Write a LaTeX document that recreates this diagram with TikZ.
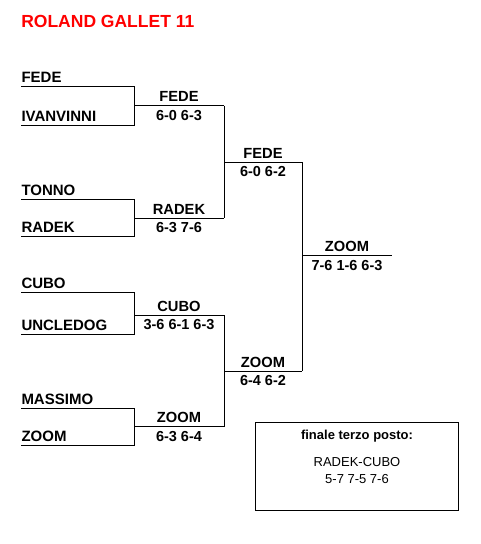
\documentclass[tikz,border=0pt]{standalone}
\usepackage{fontspec}
\setmainfont{Liberation Sans}
\begin{document}
\begin{tikzpicture}[x=1pt,y=-1pt,line width=1pt,
  player/.style={font=\bfseries\fontsize{15}{18}\selectfont,anchor=base west,inner sep=0pt},
  winner/.style={font=\bfseries\fontsize{14.7}{18}\selectfont,anchor=base,inner sep=0pt},
  score/.style={font=\bfseries\fontsize{14.5}{18}\selectfont,anchor=base,inner sep=0pt},
  title/.style={font=\bfseries\fontsize{17.5}{20}\selectfont,text=red,anchor=base west,inner sep=0pt},
  infobox/.style={draw,line width=1pt},
  infotext/.style={font=\fontsize{13}{16}\selectfont,anchor=base,inner sep=0pt}]
\useasboundingbox (0,0) rectangle (480,544);
\node[title] (title) at (20.8,27) {ROLAND GALLET 11};
% first round
\foreach \i/\t/\b/\m/\na/\nb/\w/\s in {
  1/86/125/105.7/FEDE/IVANVINNI/FEDE/6-0 6-3,
  2/199/236/218.3/TONNO/RADEK/RADEK/6-3 7-6,
  3/292/334/315/CUBO/UNCLEDOG/CUBO/3-6 6-1 6-3,
  4/408/445/426.7/MASSIMO/ZOOM/ZOOM/6-3 6-4}{
  \coordinate (t\i) at (21,\t);
  \coordinate (tc\i) at (134,\t);
  \coordinate (bc\i) at (134,\b);
  \coordinate (b\i) at (21,\b);
  \coordinate (m\i) at (134,\m);
  \coordinate (me\i) at (224,\m);
  \draw (t\i) -- (tc\i) -- (bc\i) -- (b\i);
  \draw (m\i) -- (me\i);
  \node[player] (pa\i) at (21,{\t-4}) {\na};
  \node[player] (pb\i) at (21,{\b-4}) {\nb};
  \node[winner] (w\i) at (179,{\m-4}) {\w};
  \node[score] (s\i) at (179,{\m+14.5}) {\s};
}
% second round
\coordinate (ra) at (224,162.3);
\coordinate (rae) at (302,162.3);
\coordinate (rb) at (224,371.3);
\coordinate (rbe) at (302,371.3);
\draw (me1) -- (me2);
\draw (me3) -- (me4);
\draw (ra) -- (rae);
\draw (rb) -- (rbe);
\node[winner] (wa) at (263,158.3) {FEDE};
\node[score] (sa) at (263,176.8) {6-0 6-2};
\node[winner] (wb) at (263,367.3) {ZOOM};
\node[score] (sb) at (263,385.8) {6-4 6-2};
% final
\coordinate (f) at (302,255.5);
\coordinate (fe) at (392,255.5);
\draw (rae) -- (rbe);
\draw (f) -- (fe);
\node[winner] (wf) at (347,251.5) {ZOOM};
\node[score] (sf) at (347,270) {7-6 1-6 6-3};
% third place box
\node[infobox,minimum width=203pt,minimum height=88pt,inner sep=0pt] (box) at (357,466.5) {};
\node[infotext,font=\bfseries\fontsize{13}{16}\selectfont] (tp) at (357,439) {finale terzo posto:};
\node[infotext] (tm) at (357,466.8) {RADEK-CUBO};
\node[infotext] (ts) at (357,483.5) {5-7 7-5 7-6};
\end{tikzpicture}
\end{document}
